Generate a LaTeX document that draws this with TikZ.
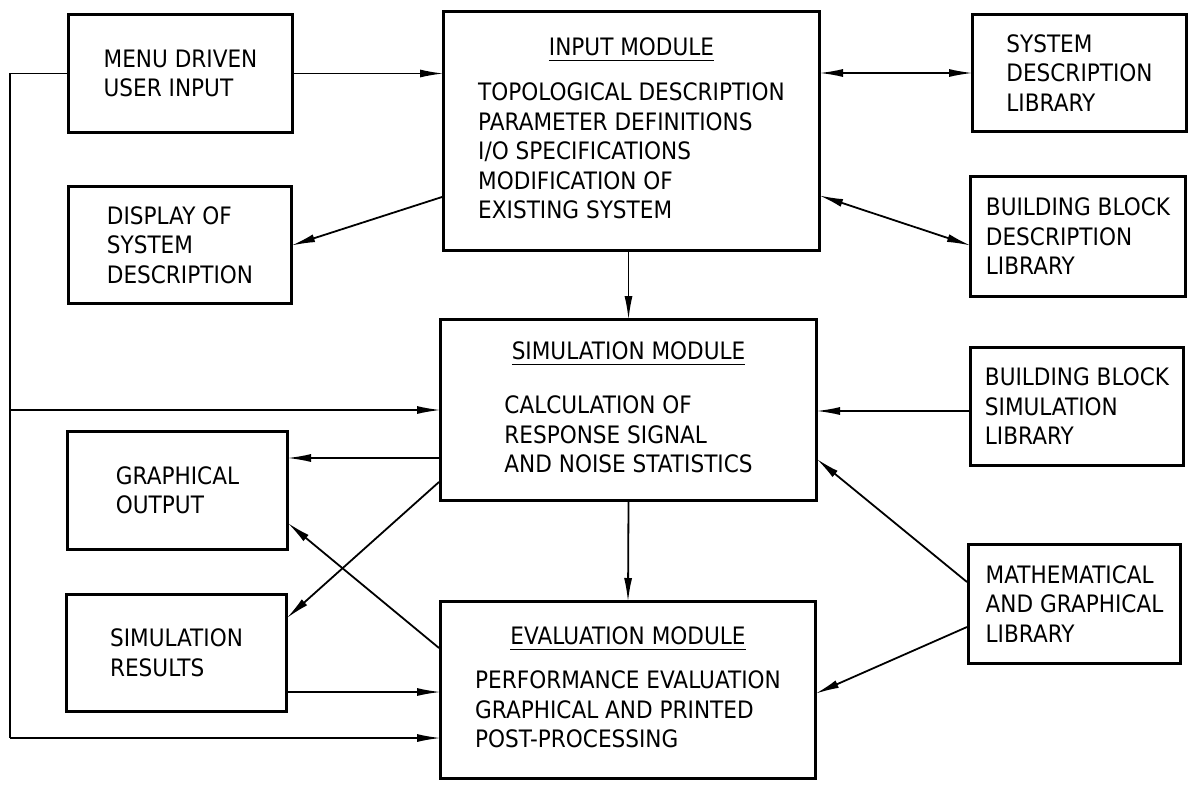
\documentclass[tikz,border=0pt]{standalone}
\usepackage{fontspec}
\setmainfont{DejaVu Sans}[FakeStretch=0.9]
\usetikzlibrary{arrows.meta}

% underlined, centred module heading
\newcommand\modtitle[1]{\setbox0\hbox{#1}\rlap{\rule[-6pt]{\wd0}{1.4pt}}\box0}

\tikzset{
  box/.style={draw, line width=3pt, inner sep=0pt, align=left,
              font=\fontsize{24}{29.5}\selectfont},
  conn/.style={line width=1.8pt, -{Latex[length=24pt,width=8pt]}, shorten >=-2pt},
  both/.style={line width=1.8pt, {Latex[length=24pt,width=8pt]}-{Latex[length=24pt,width=8pt]},
               shorten >=-2pt, shorten <=-2pt},
  plain/.style={line width=1.8pt}
}

\begin{document}
\begin{tikzpicture}[x=1pt,y=-1pt]
\useasboundingbox (0,0) rectangle (1190,784);

% left column
\node[box, minimum width=224, minimum height=118] (menu) at (180.5,73.5)
  {MENU DRIVEN\\USER INPUT};
\node[box, minimum width=223, minimum height=117] (display) at (180,245)
  {DISPLAY OF\\SYSTEM\\DESCRIPTION};
\node[box, minimum width=220, minimum height=118] (graph) at (177.5,490.5)
  {GRAPHICAL\\OUTPUT};
\node[box, minimum width=220, minimum height=117] (simres) at (176.5,653)
  {SIMULATION\\RESULTS};

% modules
\node[box, minimum width=376, minimum height=239] (input) at (631.5,131)
  {\begin{tabular}{@{}l@{}}\multicolumn{1}{@{}c@{}}{\modtitle{INPUT MODULE}}\\[16pt]
   TOPOLOGICAL DESCRIPTION\\ PARAMETER DEFINITIONS\\ I/O SPECIFICATIONS\\
   MODIFICATION OF\\ EXISTING SYSTEM\end{tabular}};
\node[box, minimum width=376, minimum height=181] (sim) at (628.5,410)
  {\begin{tabular}{@{}l@{}}\multicolumn{1}{@{}c@{}}{\modtitle{SIMULATION MODULE}}\\[25pt]
   CALCULATION OF\\ RESPONSE SIGNAL\\ AND NOISE STATISTICS\end{tabular}};
\node[box, minimum width=375, minimum height=177] (eval) at (628,690)
  {\begin{tabular}{@{}l@{}}\multicolumn{1}{@{}c@{}}{\modtitle{EVALUATION MODULE}}\\[15pt]
   PERFORMANCE EVALUATION\\ GRAPHICAL AND PRINTED\\ POST-PROCESSING\end{tabular}};

% libraries
\node[box, minimum width=214, minimum height=117] (sysdesc) at (1079.5,73)
  {SYSTEM\\DESCRIPTION\\LIBRARY};
\node[box, minimum width=215, minimum height=120] (bbdesc) at (1078,236.5)
  {BUILDING BLOCK\\DESCRIPTION\\LIBRARY};
\node[box, minimum width=213, minimum height=118] (bbsim) at (1077,406.5)
  {BUILDING BLOCK\\SIMULATION\\LIBRARY};
\node[box, minimum width=212, minimum height=119] (math) at (1074.5,604)
  {MATHEMATICAL\\AND GRAPHICAL\\LIBRARY};

% feedback bus from the user input
\coordinate (busTop) at (10,73.5);
\coordinate (busBot) at (10,738);
\draw[plain] (menu.west) -- (busTop) -- (busBot);
\draw[conn] (busBot) -- (busBot -| eval.west);
\draw[conn] (busTop |- sim.west) -- (sim.west);

% connectors
\draw[conn] (menu.east) -- (menu.east -| input.west);
\draw[both] (input.east |- sysdesc.west) -- (sysdesc.west);
\draw[both] ([yshift=-65]input.east) -- ([yshift=-8.5]bbdesc.west);
\draw[conn] ([yshift=-66]input.west) -- (display.east);
\draw[conn] (sim.north |- input.south) -- (sim.north);
\draw[conn] ([yshift=-48]sim.west) -- ([yshift=32.5]graph.east);
\draw[conn] ([yshift=-72]sim.west) -- ([yshift=36]simres.east);
\draw[conn] ([yshift=42]eval.west) -- ([yshift=-33.5]graph.east);
\draw[conn] ([yshift=-39]simres.east) -- ([yshift=-2]eval.west);
\draw[conn] (sim.south) -- (eval.north);
\draw[conn] ([yshift=-4.5]bbsim.west) -- ([yshift=-1]sim.east);
\draw[conn] ([yshift=22]math.west) -- ([yshift=-50]sim.east);
\draw[conn] ([yshift=-23]math.west) -- ([yshift=-3]eval.east);
\end{tikzpicture}
\end{document}
